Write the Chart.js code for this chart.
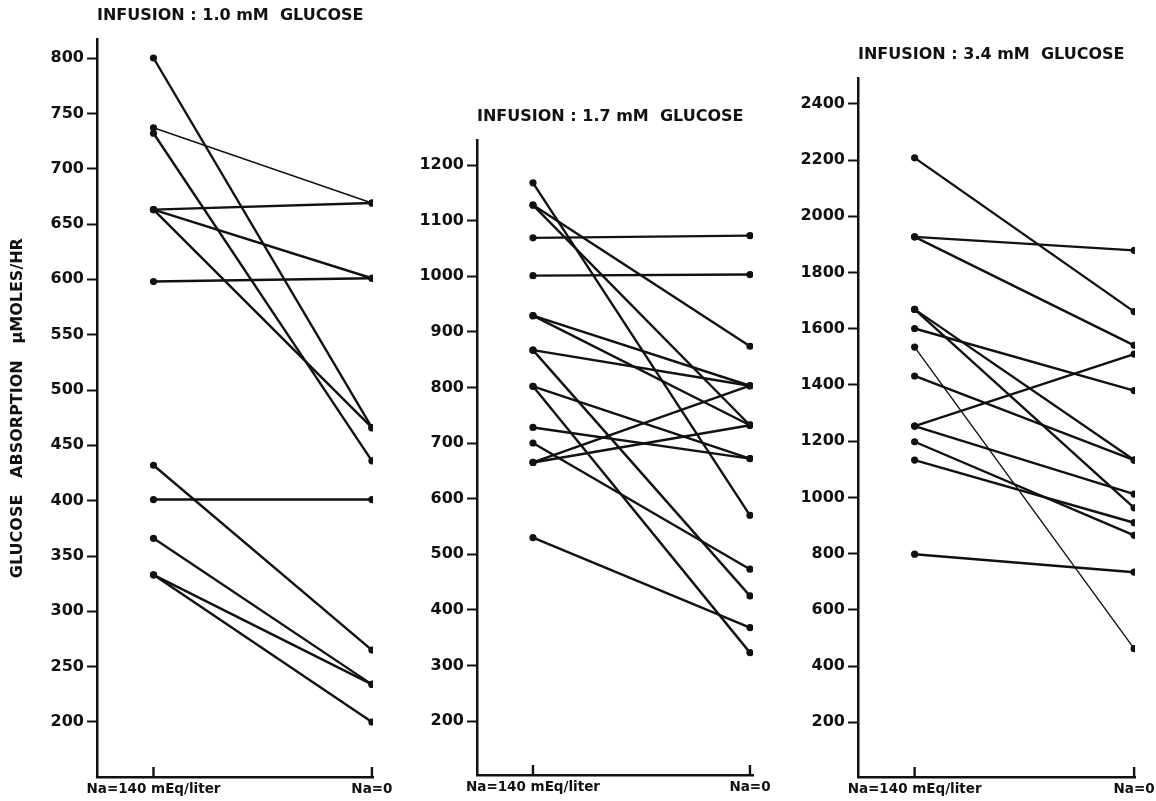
<!DOCTYPE html>
<html>
<head>
<meta charset="utf-8">
<script src="https://cdn.jsdelivr.net/npm/chart.js@4"></script>
<style>
  body { margin: 0; background: #fff; overflow: hidden; }
  #wrap { position: relative; width: 1156px; height: 801px; }
  canvas { position: absolute; top: 0; }
</style>
</head>
<body>
<div id="wrap">
  <canvas id="c1" style="left:0px" width="400" height="801"></canvas>
  <canvas id="c2" style="left:400px" width="390" height="801"></canvas>
  <canvas id="c3" style="left:790px" width="372" height="801"></canvas>
</div>
<script>
// x categories
const xLabels = ['Na=140 mEq/liter', 'Na=0'];

// infusion 1.0 mM glucose (umoles/hr), each index is one animal
const p1Before = [800, 737, 732, 663, 663, 663, 598, 432, 401, 366, 333, 333];
const p1After  = [466, 669, 436, 669, 601, 466, 601, 265, 401, 234, 234, 200];
const p1Ticks  = [200, 250, 300, 350, 400, 450, 500, 550, 600, 650, 700, 750, 800];

// infusion 1.7 mM glucose
const p2Before = [1168, 1128, 1128, 1069, 1001, 929, 929, 867, 867, 802, 802, 728, 700, 665, 665, 530];
const p2After  = [570, 732, 874, 1073, 1003, 803, 732, 803, 425, 672, 323, 672, 473, 803, 732, 368];
const p2Ticks  = [200, 300, 400, 500, 600, 700, 800, 900, 1000, 1100, 1200];

// infusion 3.4 mM glucose
const p3Before = [2208, 1927, 1927, 1669, 1669, 1601, 1535, 1432, 1254, 1254, 1198, 1133, 798];
const p3After  = [1661, 1879, 1541, 1133, 963, 1380, 462, 1133, 1510, 1012, 865, 910, 734];
const p3Ticks  = [200, 400, 600, 800, 1000, 1200, 1400, 1600, 1800, 2000, 2200, 2400];

const ink = '#111';
const family = '"DejaVu Sans", sans-serif';

// short ticks that point up into the plot at each category
const innerTicks = {
  id: 'innerTicks',
  afterDraw(chart) {
    const {ctx, chartArea, scales} = chart;
    ctx.save();
    ctx.strokeStyle = ink;
    ctx.lineWidth = 2.4;
    [0, 1].forEach(v => {
      const x = scales.x.getPixelForValue(v);
      ctx.beginPath();
      ctx.moveTo(x, chartArea.bottom);
      ctx.lineTo(x, chartArea.bottom - 10);
      ctx.stroke();
    });
    ctx.restore();
  }
};

function makePanel(id, title, before, after, ticks, cfg) {
  const datasets = before.map((b, i) => ({
    data: [{x: 0, y: b}, {x: 1, y: after[i]}],
    borderColor: ink,
    borderWidth: (cfg.thin || []).includes(i) ? 1.4 : 2.4,
    pointRadius: 3.6,
    pointBorderWidth: 0,
    pointBackgroundColor: ink
  }));

  return new Chart(document.getElementById(id), {
    type: 'line',
    data: {datasets},
    options: {
      responsive: false,
      animation: false,
      devicePixelRatio: 1,
      layout: {padding: {top: cfg.top, right: cfg.right, bottom: cfg.bottom, left: 0}},
      plugins: {
        legend: {display: false},
        tooltip: {enabled: false},
        title: {
          display: true, text: title, align: 'start', fullSize: false,
          color: ink, font: {family, size: 16, weight: 'bold'},
          padding: {top: 0, bottom: 14}
        }
      },
      scales: {
        x: {
          type: 'linear', min: cfg.xMin, max: cfg.xMax,
          afterBuildTicks: s => { s.ticks = [0, 1].map(v => ({value: v})); },
          afterFit: s => { s.height = 24; },
          ticks: {
            callback: v => xLabels[v], color: ink, padding: 4,
            maxRotation: 0, autoSkip: false,
            font: {family, size: 13.5, weight: 'bold'}
          },
          grid: {display: false, drawTicks: false},
          border: {color: ink, width: 2.5}
        },
        y: {
          min: cfg.yMin, max: cfg.yMax,
          afterBuildTicks: s => { s.ticks = ticks.map(v => ({value: v})); },
          afterFit: s => { s.width = cfg.axisWidth; },
          ticks: {
            callback: v => String(v), color: ink, padding: 3,
            font: {family, size: 16, weight: 'bold'}
          },
          grid: {drawOnChartArea: false, tickLength: 10, tickWidth: 2, tickColor: ink},
          border: {color: ink, width: 2.5},
          title: cfg.yTitle ? {
            display: true, text: cfg.yTitle, color: ink,
            font: {family, size: 16, weight: 'bold'}, padding: {top: 8, bottom: 0}
          } : {display: false}
        }
      }
    },
    plugins: [innerTicks]
  });
}

makePanel('c1', 'INFUSION : 1.0 mM  GLUCOSE', p1Before, p1After, p1Ticks, {
  top: 6, right: 27, bottom: 0, axisWidth: 97,
  xMin: -0.2586, xMax: 1.005, yMin: 150.3, yMax: 817,
  thin: [1],
  yTitle: 'GLUCOSE   ABSORPTION   \u03bcMOLES/HR'
});

makePanel('c2', 'INFUSION : 1.7 mM  GLUCOSE', p2Before, p2After, p2Ticks, {
  top: 107.4, right: 37, bottom: 2, axisWidth: 77,
  xMin: -0.258, xMax: 1.014, yMin: 102.9, yMax: 1243.9
});

makePanel('c3', 'INFUSION : 3.4 mM  GLUCOSE', p3Before, p3After, p3Ticks, {
  top: 45.4, right: 27, bottom: 0, axisWidth: 68,
  xMin: -0.258, xMax: 1.004, yMin: 5.4, yMax: 2490,
  thin: [6]
});
</script>
</body>
</html>
